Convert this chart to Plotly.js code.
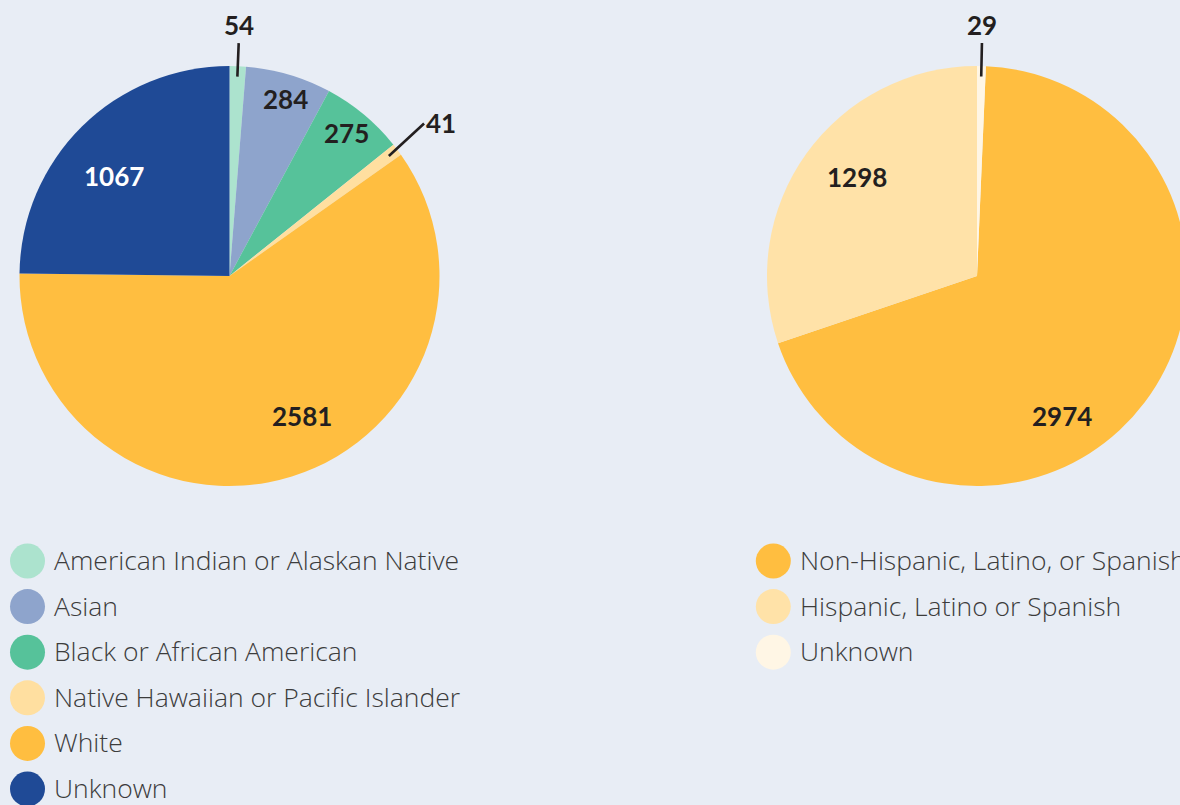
<!DOCTYPE html>
<html><head><meta charset="utf-8">
<script src="https://cdn.plot.ly/plotly-3.0.1.min.js"></script>
<style>html,body{margin:0;padding:0;overflow:hidden;background:#E8EDF5;} #chart{width:1200px;height:805px;}</style>
</head><body><div id="chart"></div>
<script>
// ---- data ----
const raceLabels = ['American Indian or Alaskan Native','Asian','Black or African American','Native Hawaiian or Pacific Islander','White','Unknown'];
const raceValues = [54, 284, 275, 41, 2581, 1067];
const ethnicityLabels = ['Non-Hispanic, Latino, or Spanish','Hispanic, Latino or Spanish','Unknown'];
const ethnicityValues = [2974, 1298, 29];

// ---- styles ----
const raceColors = ['#ACE3CE','#8EA4CC','#56C29A','#FFDFA0','#FFBE40','#1F4A96'];
const ethnicityColors = ['#FFBE40','#FFE2A8','#FFF6E5'];
const raceLabelStyle = [ {out:true}, {r:0.885,d:1.2}, {r:0.88,d:-0.5}, {out:true}, {r:0.75,d:-10.2,}, {r:0.73,d:-4.5,color:'#FFFFFF'} ];
const ethLabelStyle = [ {r:0.78,d:21.8}, {r:0.74,d:3.8}, {out:true} ];

const W = 1200, H = 805;
const BG = '#E8EDF5';
const TXT = '#231F20';
const LEG = '#3C3C3C';
const R = 210;
const pies = [
  {cx:229.5, cy:276, labels:raceLabels, values:raceValues, colors:raceColors, style:raceLabelStyle, rotZero:false},
  {cx:977, cy:276, labels:ethnicityLabels, values:ethnicityValues, colors:ethnicityColors, style:ethLabelStyle, rotZero:true}
];

const traces = [];
const annotations = [];

pies.forEach(p => {
  const total = p.values.reduce((a,b)=>a+b,0);
  // for ethnicity: last slice (Unknown) ends at 12 o'clock
  const rot = p.rotZero ? p.values[p.values.length-1]/total*360 : 0;
  traces.push({
    type:'pie', labels:p.labels, values:p.values, sort:false, direction:'clockwise',
    rotation: rot, textinfo:'none', hoverinfo:'label+value', showlegend:false,
    marker:{colors:p.colors, line:{width:0}},
    domain:{x:[(p.cx-R)/W,(p.cx+R)/W], y:[1-(p.cy+R)/H, 1-(p.cy-R)/H]}
  });
  let cum = 0;
  p.values.forEach((v,i) => {
    const mid = rot + (cum + v/2)/total*360;
    cum += v;
    const st = p.style[i];
    if (st.out) {
      const t = mid*Math.PI/180;
      const s = Math.sin(t), c = Math.cos(t);
      const top = c > 0.7;
      const tipR = 0.95*R, tailR = (top ? 1.11 : 1.16)*R;
      const xa = s>0.3?'left':(s<-0.3?'right':'center');
      const ya = top?'bottom':(c<-0.7?'top':'middle');
      annotations.push({
        xref:'x', yref:'y', x:p.cx + tipR*s, y:p.cy - tipR*c,
        ax:(tailR-tipR)*s, ay:-(tailR-tipR)*c - (ya==='middle'?6:0), axref:'pixel', ayref:'pixel',
        text:String(v), showarrow:true, arrowhead:0, arrowwidth:2.6, arrowcolor:TXT, standoff:0,
        xanchor:xa, yanchor:ya,
        font:{family:'Lato, sans-serif', size:26, color:TXT, weight:700}
      });
    } else {
      const t = (mid+st.d)*Math.PI/180;
      annotations.push({
        xref:'x', yref:'y', x:p.cx + st.r*R*Math.sin(t), y:p.cy - st.r*R*Math.cos(t),
        text:String(v), showarrow:false, xanchor:'center', yanchor:'middle',
        font:{family:'Lato, sans-serif', size:26, color:st.color||TXT, weight:700}
      });
    }
  });
});

// ---- custom legends (circle swatches) ----
const legends = [
  {x:27.5, tx:52, labels:raceLabels, colors:raceColors},
  {x:773.3, tx:798, labels:ethnicityLabels, colors:ethnicityColors}
];
const rowY0 = 561, rowStep = 45.6;
legends.forEach(L => {
  const ys = L.labels.map((_,i)=>rowY0 + i*rowStep);
  traces.push({
    type:'scatter', mode:'markers', x:L.labels.map(()=>L.x), y:ys,
    marker:{size:35, color:L.colors, line:{width:0}}, hoverinfo:'skip', showlegend:false, cliponaxis:false
  });
  L.labels.forEach((lab,i)=>{
    annotations.push({xref:'x', yref:'y', x:L.tx, y:ys[i]-1, text:lab, showarrow:false,
      xanchor:'left', yanchor:'middle',
      font:{family:'Open Sans, sans-serif', size:26.5, color:LEG, weight:300}});
  });
});

const layout = {
  width:W, height:H, margin:{l:0,r:0,t:0,b:0},
  paper_bgcolor:BG, plot_bgcolor:BG, showlegend:false,
  xaxis:{range:[0,W], visible:false, fixedrange:true},
  yaxis:{range:[H,0], visible:false, fixedrange:true},
  annotations:annotations
};
Plotly.newPlot('chart', traces, layout, {displayModeBar:false, staticPlot:true});
</script>
</body></html>
